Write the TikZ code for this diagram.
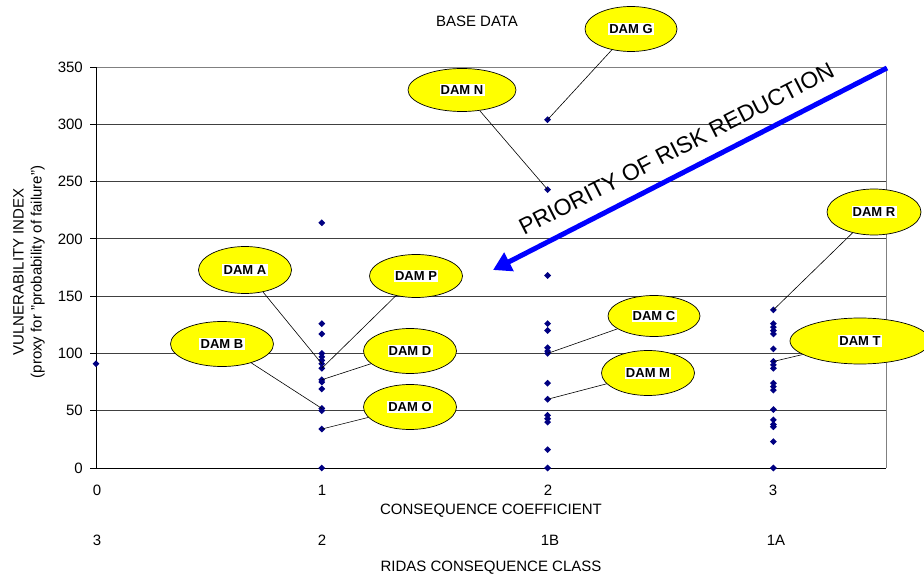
\documentclass[tikz,border=0pt]{standalone}
\usepackage{fontspec}
\setmainfont{Liberation Sans}
\usetikzlibrary{shapes.geometric,arrows.meta}
\definecolor{navy}{RGB}{0,0,130}
\definecolor{arrblue}{RGB}{0,0,255}
\definecolor{dyellow}{RGB}{255,255,0}
\newcommand{\damtxt}[1]{{\setlength{\fboxsep}{1.2pt}\colorbox{white}{#1}}}
\begin{document}
\begin{tikzpicture}[x=1pt,y=-1pt,
  axlabel/.style={font=\fontsize{15}{18}\selectfont, inner sep=0pt},
  gridline/.style={black!75, line width=0.8pt},
  datapt/.style={diamond, fill=navy, inner sep=0pt, minimum size=7pt},
  dam/.style={ellipse, draw=black, line width=0.7pt, fill=dyellow, inner sep=0pt,
     minimum width=92pt, minimum height=45pt, font=\fontsize{13}{15}\selectfont\bfseries},
  lead/.style={black, line width=0.6pt}]
\useasboundingbox (0,0) rectangle (924,580);
\fill[white] (0,0) rectangle (924,580);

\begin{scope}[shift={(96,468)}, x=225.8pt, y=1.1457pt]
  \foreach \v in {50,100,...,300} \draw[gridline] (0,\v) -- (3.5,\v);
  \draw[gray, line width=0.9pt] (0,350) -- (3.5,350) -- (3.5,0);
  \draw[black, line width=0.9pt] (0,350) -- (0,0) -- (3.5,0);
  \foreach \v in {0,50,...,350} {
    \draw[black, line width=0.8pt] (0,\v) -- ++(-6pt,0pt);
    \node[axlabel, anchor=east] (yt\v) at ([xshift=-13pt]0,\v) {\v};
  }
  % data points
  \node[datapt] (c0-91) at (0,91) {};
  \foreach \v in {214,126,117,100,97,94,91,87,77,75,69,52,50,34,0}
    \node[datapt] (c1-\v) at (1,\v) {};
  \foreach \v in {304,243,168,126,120,105,102,100,74,60,46,43,40,16,0}
    \node[datapt] (c2-\v) at (2,\v) {};
  \foreach \v in {138,126,123,120,117,104,93,90,87,74,71,68,51,42,38,36,23,0}
    \node[datapt] (c3-\v) at (3,\v) {};
\end{scope}

% axis labels
\node[axlabel] (xa0) at (97,490) {0};
\node[axlabel] (xa1) at (322,490) {1};
\node[axlabel] (xa2) at (548,490) {2};
\node[axlabel] (xa3) at (773,490) {3};
\node[axlabel] (xc3) at (97,540) {3};
\node[axlabel] (xc2) at (322,540) {2};
\node[axlabel] (xc1B) at (550,540) {1B};
\node[axlabel] (xc1A) at (776,540) {1A};
\node[axlabel] (xtitle) at (491,511) {CONSEQUENCE COEFFICIENT};
\node[axlabel] (xtitle2) at (491,568) {RIDAS CONSEQUENCE CLASS};
\node[axlabel] (title) at (477,21) {BASE DATA};
\node[axlabel, rotate=90, align=center] (ytitle) at (29,272)
  {VULNERABILITY INDEX\\(proxy for "probability of failure")};

% priority arrow
\coordinate (arrS) at (887,68);
\coordinate (arrE) at (493,270);
\draw[arrblue, line width=5pt, -{Triangle[length=18pt,width=20pt]}] (arrS) -- (arrE);
\node[font=\fontsize{23}{27}\selectfont, rotate=27.1, anchor=base, inner sep=0pt] (prio)
  at (680,156) {PRIORITY OF RISK REDUCTION};

% dam labels
\node[dam] (damG) at (631,29) {\damtxt{DAM G}};
\node[dam, minimum width=108pt, minimum height=43pt] (damN) at (462,90) {\damtxt{DAM N}};
\node[dam, minimum width=93pt, minimum height=47pt] (damA) at (245,270) {\damtxt{DAM A}};
\node[dam, minimum width=93pt, minimum height=43pt] (damP) at (416,276) {\damtxt{DAM P}};
\node[dam, minimum width=103pt] (damB) at (222,344) {\damtxt{DAM B}};
\node[dam, minimum width=93pt] (damD) at (410,351) {\damtxt{DAM D}};
\node[dam, minimum width=93pt] (damO) at (410,407) {\damtxt{DAM O}};
\node[dam, minimum height=41pt] (damC) at (654,316) {\damtxt{DAM C}};
\node[dam, minimum width=93pt] (damM) at (648,373) {\damtxt{DAM M}};
\node[dam, minimum width=94pt, minimum height=46pt] (damR) at (874,212) {\damtxt{DAM R}};
\node[dam, minimum width=140pt, minimum height=46pt] (damT) at (860,341) {\damtxt{DAM T}};

% leader lines
\draw[lead] (damG) -- (c2-304.center);
\draw[lead] (damN) -- (c2-243.center);
\draw[lead] (damA) -- (c1-91.center);
\draw[lead] (damP) -- (c1-87.center);
\draw[lead] (damD) -- (c1-77.center);
\draw[lead] (damB) -- (c1-52.center);
\draw[lead] (damO) -- (c1-34.center);
\draw[lead] (damC) -- (c2-100.center);
\draw[lead] (damM) -- (c2-60.center);
\draw[lead] (damR) -- (c3-138.center);
\draw[lead] (damT) -- (c3-93.center);
\end{tikzpicture}
\end{document}
